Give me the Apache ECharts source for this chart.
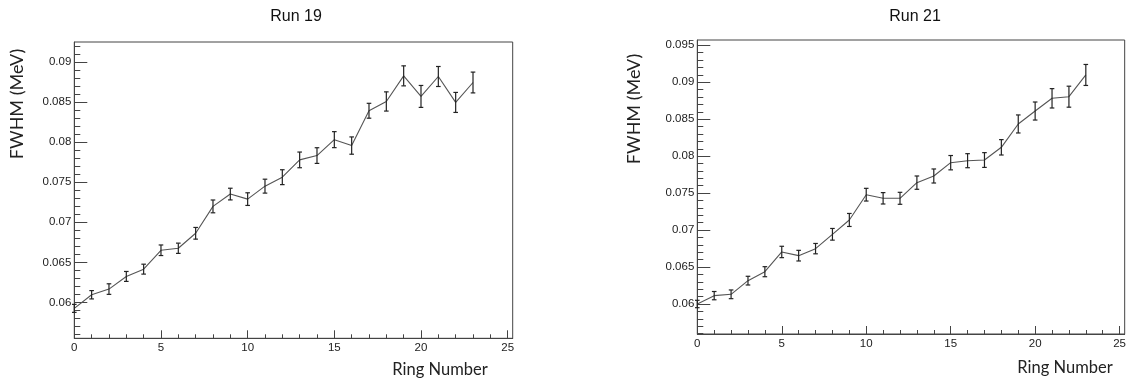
<!DOCTYPE html>
<html>
<head>
<meta charset="utf-8">
<script src="https://cdn.jsdelivr.net/npm/echarts@6/dist/echarts.min.js"></script>
<style>
html,body{margin:0;padding:0;background:#fff;}
#chart{width:1129px;height:385px;}
</style>
</head>
<body>
<div id="chart"></div>
<script>
const ringNumbers = [0,1,2,3,4,5,6,7,8,9,10,11,12,13,14,15,16,17,18,19,20,21,22,23];
const run19Fwhm = [0.05925,0.06095,0.06166,0.06324,0.06415,0.06651,0.06676,0.06863,0.07199,0.07353,0.0729,0.07452,0.07564,0.0778,0.07834,0.08033,0.07959,0.08394,0.0851,0.0883,0.08573,0.08822,0.08498,0.08747];
const run19Err = [0.0005,0.00052,0.00066,0.00062,0.00062,0.00066,0.00064,0.00073,0.0008,0.00073,0.00079,0.00087,0.00093,0.00098,0.00098,0.001,0.00108,0.00093,0.0012,0.00125,0.00137,0.00125,0.00125,0.0013];
const run21Fwhm = [0.06,0.06113,0.06131,0.06316,0.06437,0.06704,0.06654,0.06749,0.06943,0.07137,0.07479,0.0743,0.0743,0.07642,0.07732,0.07912,0.07939,0.07948,0.0812,0.08436,0.08611,0.08783,0.08805,0.09099];
const run21Err = [0.0005,0.00056,0.00059,0.00059,0.00068,0.00077,0.00072,0.0007,0.00079,0.00088,0.00086,0.00077,0.00081,0.0009,0.00095,0.00097,0.00095,0.001,0.00104,0.00122,0.00122,0.00131,0.00142,0.00142];

const xTickLabels = [0,5,10,15,20,25];
const xMinorTicks = [];
for (let i = 0; i <= 25; i++) xMinorTicks.push(i);
const run19YTicks = [0.06,0.065,0.07,0.075,0.08,0.085,0.09];
const run21YTicks = [0.06,0.065,0.07,0.075,0.08,0.085,0.09,0.095];
function minorList(a, b) { const r = []; for (let i = a; i <= b; i++) r.push(i / 1000); return r; }
const run19YMinor = minorList(56, 92);
const run21YMinor = minorList(56, 95);

const titles = ['Run 19', 'Run 21'];
const yName = 'FWHM (MeV)';
const xName = 'Ring Number';

const axisColor = '#444';
const labelStyle = { color: '#222', fontFamily: 'Liberation Sans, Arial, sans-serif', fontSize: 11.5 };

function pairs(xs, ys) { return xs.map((x, i) => [x, ys[i]]); }
function errData(xs, ys, es) { return xs.map((x, i) => [x, ys[i], es[i]]); }

function errRender(params, api) {
  const x = api.value(0), y = api.value(1), e = api.value(2);
  const lo = api.coord([x, y - e]);
  const hi = api.coord([x, y + e]);
  const cap = 2.3;
  const st = { stroke: '#222', lineWidth: 1.2 };
  return {
    type: 'group',
    children: [
      { type: 'line', shape: { x1: lo[0], y1: lo[1], x2: hi[0], y2: hi[1] }, style: st },
      { type: 'line', shape: { x1: lo[0] - cap, y1: lo[1], x2: lo[0] + cap, y2: lo[1] }, style: st },
      { type: 'line', shape: { x1: hi[0] - cap, y1: hi[1], x2: hi[0] + cap, y2: hi[1] }, style: st }
    ]
  };
}

function mainX(gi, max) {
  return {
    type: 'value', gridIndex: gi, min: 0, max: max,
    axisLine: { show: true, lineStyle: { color: axisColor, width: 1 } },
    axisTick: { show: true, inside: true, length: 8, customValues: xTickLabels, lineStyle: { color: axisColor } },
    axisLabel: Object.assign({ show: true, margin: 4, customValues: xTickLabels }, labelStyle),
    splitLine: { show: false }
  };
}
function minorX(gi, max) {
  return {
    type: 'value', gridIndex: gi, min: 0, max: max, position: 'bottom',
    axisLine: { show: false },
    axisTick: { show: true, inside: true, length: 4, customValues: xMinorTicks, lineStyle: { color: axisColor } },
    axisLabel: { show: false },
    splitLine: { show: false }
  };
}
function mainY(gi, min, max, ticks) {
  return {
    type: 'value', gridIndex: gi, min: min, max: max,
    axisLine: { show: true, lineStyle: { color: axisColor, width: 1 } },
    axisTick: { show: true, inside: true, length: 13, customValues: ticks, lineStyle: { color: axisColor } },
    axisLabel: Object.assign({ show: true, margin: 3, customValues: ticks, formatter: v => String(+(+v).toFixed(3)) }, labelStyle),
    splitLine: { show: false }
  };
}
function minorY(gi, min, max, ticks) {
  return {
    type: 'value', gridIndex: gi, min: min, max: max, position: 'left',
    axisLine: { show: false },
    axisTick: { show: true, inside: true, length: 6, customValues: ticks, lineStyle: { color: axisColor } },
    axisLabel: { show: false },
    splitLine: { show: false }
  };
}

const chart = echarts.init(document.getElementById('chart'), null, { renderer: 'canvas' });
const textFont = 'Lato, "Open Sans", sans-serif';
chart.setOption({
  animation: false,
  backgroundColor: '#ffffff',
  grid: [
    { left: 74.3, top: 42, width: 438.4, height: 296.3, show: true, borderColor: axisColor, borderWidth: 1, backgroundColor: 'transparent', containLabel: false },
    { left: 697.3, top: 40, width: 433.4, height: 294, show: true, borderColor: axisColor, borderWidth: 1, backgroundColor: 'transparent', containLabel: false }
  ],
  xAxis: [ mainX(0, 25.29), minorX(0, 25.29), mainX(1, 25.3), minorX(1, 25.3) ],
  yAxis: [
    mainY(0, 0.05551, 0.09253, run19YTicks), minorY(0, 0.05551, 0.09253, run19YMinor),
    mainY(1, 0.05594, 0.09572, run21YTicks), minorY(1, 0.05594, 0.09572, run21YMinor)
  ],
  series: [
    { type: 'line', xAxisIndex: 0, yAxisIndex: 0, data: pairs(ringNumbers, run19Fwhm), showSymbol: false, symbol: 'none', lineStyle: { color: '#555', width: 1.1 }, z: 2 },
    { type: 'custom', xAxisIndex: 0, yAxisIndex: 0, data: errData(ringNumbers, run19Fwhm, run19Err), renderItem: errRender, z: 3 },
    { type: 'line', xAxisIndex: 2, yAxisIndex: 2, data: pairs(ringNumbers, run21Fwhm), showSymbol: false, symbol: 'none', lineStyle: { color: '#555', width: 1.1 }, z: 2 },
    { type: 'custom', xAxisIndex: 2, yAxisIndex: 2, data: errData(ringNumbers, run21Fwhm, run21Err), renderItem: errRender, z: 3 }
  ],
  graphic: [
    { type: 'text', x: 296, y: 17, style: { text: titles[0], font: '16px "Liberation Sans", Arial, sans-serif', fill: '#111', align: 'center', verticalAlign: 'middle' } },
    { type: 'text', x: 915, y: 17, style: { text: titles[1], font: '16px "Liberation Sans", Arial, sans-serif', fill: '#111', align: 'center', verticalAlign: 'middle' } },
    { type: 'text', x: 17, y: 104, rotation: Math.PI / 2, style: { text: yName, font: '18px ' + textFont, fill: '#222', align: 'center', verticalAlign: 'middle' } },
    { type: 'text', x: 634.5, y: 109, rotation: Math.PI / 2, style: { text: yName, font: '18px ' + textFont, fill: '#222', align: 'center', verticalAlign: 'middle' } },
    { type: 'text', x: 440, y: 370, style: { text: xName, font: '16.5px ' + textFont, fill: '#222', align: 'center', verticalAlign: 'middle' } },
    { type: 'text', x: 1065, y: 368, style: { text: xName, font: '16.5px ' + textFont, fill: '#222', align: 'center', verticalAlign: 'middle' } }
  ]
});
</script>
</body>
</html>
